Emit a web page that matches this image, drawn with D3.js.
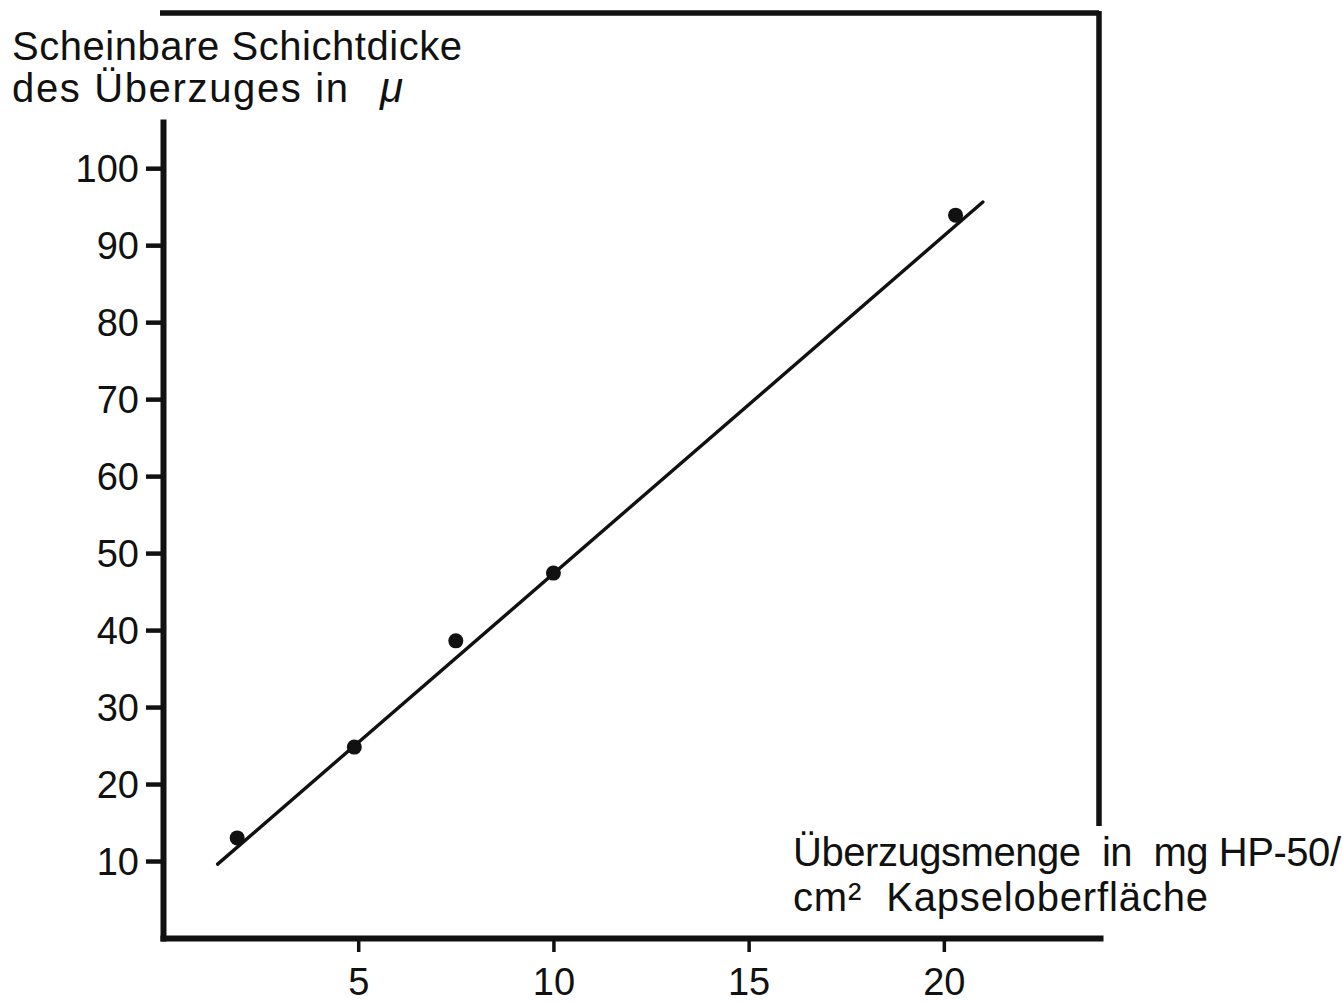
<!DOCTYPE html>
<html>
<head>
<meta charset="utf-8">
<script src="https://cdn.jsdelivr.net/npm/d3@7"></script>
<style>
  html, body { margin: 0; padding: 0; background: #fff; }
  svg { display: block; }
  text { font-family: "Liberation Sans", "DejaVu Sans", sans-serif; fill: #111; white-space: pre; }
</style>
</head>
<body>
<svg id="chart" width="1343" height="1002"></svg>
<script>
// Coating amount (mg HP-50 per cm² capsule surface) vs. apparent layer thickness (µ)
const coatingAmount = [1.9, 4.9, 7.5, 10.0, 20.3];
const layerThickness = [13.0, 24.8, 38.6, 47.4, 93.9];

// Regression line end points
const fitX = [1.4, 21.0];
const fitY = [9.6, 95.6];

const xTicks = [5, 10, 15, 20];
const yTicks = [10, 20, 30, 40, 50, 60, 70, 80, 90, 100];

const yTitleLines = ["Scheinbare Schichtdicke", "des Überzuges in"];
const yUnit = "μ";
const xTitleLines = ["Überzugsmenge  in  mg HP-50/", "cm²  Kapseloberfläche"];

const svg = d3.select("#chart");

const x = d3.scaleLinear().domain([0, 24]).range([163, 1100]);
const y = d3.scaleLinear().domain([0, 106]).range([938, 122]);

const ink = "#111";

// Frame: top rule and right rule
svg.append("line")
  .attr("x1", 160).attr("y1", 13).attr("x2", x(24) - 1).attr("y2", 13)
  .attr("stroke", ink).attr("stroke-width", 5.5);
svg.append("line")
  .attr("x1", x(24) - 1).attr("y1", 11).attr("x2", x(24) - 1).attr("y2", 826)
  .attr("stroke", ink).attr("stroke-width", 5.5);

// Y axis
const yAxis = svg.append("g")
  .attr("transform", `translate(${x(0)},0)`)
  .call(d3.axisLeft(y).tickValues(yTicks).tickSize(17).tickSizeOuter(0).tickPadding(7).tickFormat(d3.format("d")));

// X axis
const xAxis = svg.append("g")
  .attr("transform", `translate(0,${y(0)})`)
  .call(d3.axisBottom(x).tickValues(xTicks).tickSize(14).tickSizeOuter(0).tickPadding(16).tickFormat(d3.format("d")));

[yAxis, xAxis].forEach(g => {
  g.select(".domain").attr("stroke", ink).attr("stroke-width", 6).attr("stroke-linecap", "square");
  g.selectAll(".tick line").attr("stroke", ink).attr("stroke-width", 4.5);
  g.selectAll(".tick text")
    .style("font-family", "'Liberation Sans', 'DejaVu Sans', sans-serif")
    .attr("font-size", 38).attr("fill", ink);
});
xAxis.selectAll(".tick line").attr("stroke-width", 3.5);
yAxis.selectAll(".tick text").attr("dy", "0.36em");

// Regression line
svg.append("line")
  .attr("x1", x(fitX[0])).attr("y1", y(fitY[0]))
  .attr("x2", x(fitX[1])).attr("y2", y(fitY[1]))
  .attr("stroke", ink).attr("stroke-width", 3.4).attr("stroke-linecap", "round");

// Measured points
svg.append("g").selectAll("circle")
  .data(coatingAmount.map((v, i) => [v, layerThickness[i]]))
  .join("circle")
  .attr("cx", d => x(d[0]))
  .attr("cy", d => y(d[1]))
  .attr("r", 7.5)
  .attr("fill", ink);

// Y axis title
const yTitle = svg.append("g");
yTitle.append("text").attr("x", 12).attr("y", 60).attr("font-size", 40)
  .attr("textLength", 450).text(yTitleLines[0]);
yTitle.append("text").attr("x", 12).attr("y", 102).attr("font-size", 40)
  .attr("textLength", 336).text(yTitleLines[1]);
yTitle.append("text").attr("x", 380).attr("y", 102).attr("font-size", 42)
  .attr("font-style", "italic").text(yUnit);

// X axis title
const xTitle = svg.append("g");
xTitle.append("text").attr("x", 793).attr("y", 866).attr("font-size", 40)
  .attr("textLength", 548).text(xTitleLines[0]);
xTitle.append("text").attr("x", 793).attr("y", 911).attr("font-size", 40)
  .attr("textLength", 415).text(xTitleLines[1]);
</script>
</body>
</html>
